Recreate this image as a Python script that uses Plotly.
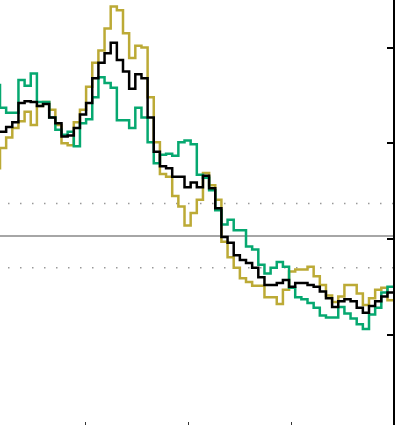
import plotly.graph_objects as go

# step index (one step per period); -1 is the partial step left of the frame
steps = list(range(-1, 64))

olive = [0.74, 0.95, 1.06, 1.16, 1.23, 1.33, 1.19, 1.39, 1.43, 1.35,
         1.19, 1.00, 0.98, 1.22, 1.35, 1.59, 1.84, 1.97, 2.20, 2.43,
         2.39, 2.15, 1.89, 2.02, 2.00, 1.48, 1.01, 0.68, 0.65, 0.45,
         0.34, 0.14, 0.27, 0.41, 0.69, 0.56, 0.41, -0.03, -0.19, -0.30,
         -0.41, -0.45, -0.49, -0.49, -0.61, -0.61, -0.68, -0.53, -0.34, -0.32,
         -0.32, -0.29, -0.39, -0.48, -0.59, -0.66, -0.60, -0.48, -0.48, -0.57,
         -0.69, -0.62, -0.53, -0.51, -0.64]

green = [1.61, 1.37, 1.32, 1.32, 1.66, 1.60, 1.73, 1.43, 1.43, 1.27,
         1.14, 1.09, 1.12, 0.97, 1.21, 1.25, 1.48, 1.69, 1.63, 1.58,
         1.24, 1.24, 1.16, 1.37, 1.27, 1.01, 0.79, 0.88, 0.89, 0.87,
         1.01, 1.03, 0.99, 0.67, 0.64, 0.51, 0.30, 0.15, 0.20, 0.09,
         0.09, -0.08, -0.11, -0.27, -0.36, -0.30, -0.24, -0.29, -0.51, -0.61,
         -0.63, -0.67, -0.72, -0.80, -0.82, -0.82, -0.71, -0.78, -0.83, -0.89,
         -0.94, -0.79, -0.72, -0.56, -0.50]

black = [1.12, 1.12, 1.17, 1.22, 1.42, 1.44, 1.43, 1.39, 1.41, 1.27,
         1.21, 1.07, 1.08, 1.16, 1.30, 1.42, 1.68, 1.84, 1.94, 2.05,
         1.87, 1.75, 1.57, 1.72, 1.68, 1.27, 0.91, 0.76, 0.74, 0.65,
         0.65, 0.54, 0.59, 0.54, 0.66, 0.53, 0.32, 0.02, -0.04, -0.17,
         -0.22, -0.25, -0.30, -0.40, -0.48, -0.48, -0.46, -0.43, -0.50, -0.46,
         -0.46, -0.48, -0.50, -0.55, -0.62, -0.71, -0.65, -0.63, -0.65, -0.72,
         -0.77, -0.70, -0.65, -0.60, -0.56]

ref_level = 0.03
band = [0.37, -0.30]
x_ticks = [13.98, 30.65, 47.32]
y_ticks = [-1, 0, 1, 2]

fig = go.Figure()

# close the last step so it reaches the frame edge
xs = steps + [steps[-1] + 1]
for vals, col, w in [(olive, "#bcaa36", 2.5), (green, "#06a870", 2.5), (black, "#000000", 2.5)]:
    fig.add_trace(go.Scatter(x=xs, y=vals + [vals[-1]], mode="lines",
                             line=dict(color=col, width=w, shape="hv"),
                             showlegend=False, hoverinfo="skip"))

fig.add_hline(y=ref_level, line=dict(color="#a6a6a6", width=2), layer="below")
for b in band:
    fig.add_shape(type="line", xref="x", yref="y", x0=1.3, x1=63.9, y0=b, y1=b,
                  line=dict(color="#999999", width=1.5, dash="1.5px,10.5px"), layer="below")

fig.update_layout(
    width=402, height=425,
    margin=dict(l=0, r=9, t=0, b=0),
    paper_bgcolor="white", plot_bgcolor="white",
    xaxis=dict(range=[0, 63.9], showgrid=False, zeroline=False, showline=False,
               tickvals=x_ticks, ticks="inside", ticklen=3, tickwidth=1,
               tickcolor="#333333", showticklabels=False),
    yaxis=dict(range=[-1.944, 2.497], side="right", showgrid=False, zeroline=False,
               showline=True, linecolor="black", linewidth=2,
               tickvals=y_ticks, ticks="inside", ticklen=6, tickwidth=1.5,
               tickcolor="black", showticklabels=False),
)

# page body has a default 8px margin; drop it so the chart sits at the corner
fig.write_html("out.html", config={"displayModeBar": False},
               post_script="document.body.style.margin='0';")
